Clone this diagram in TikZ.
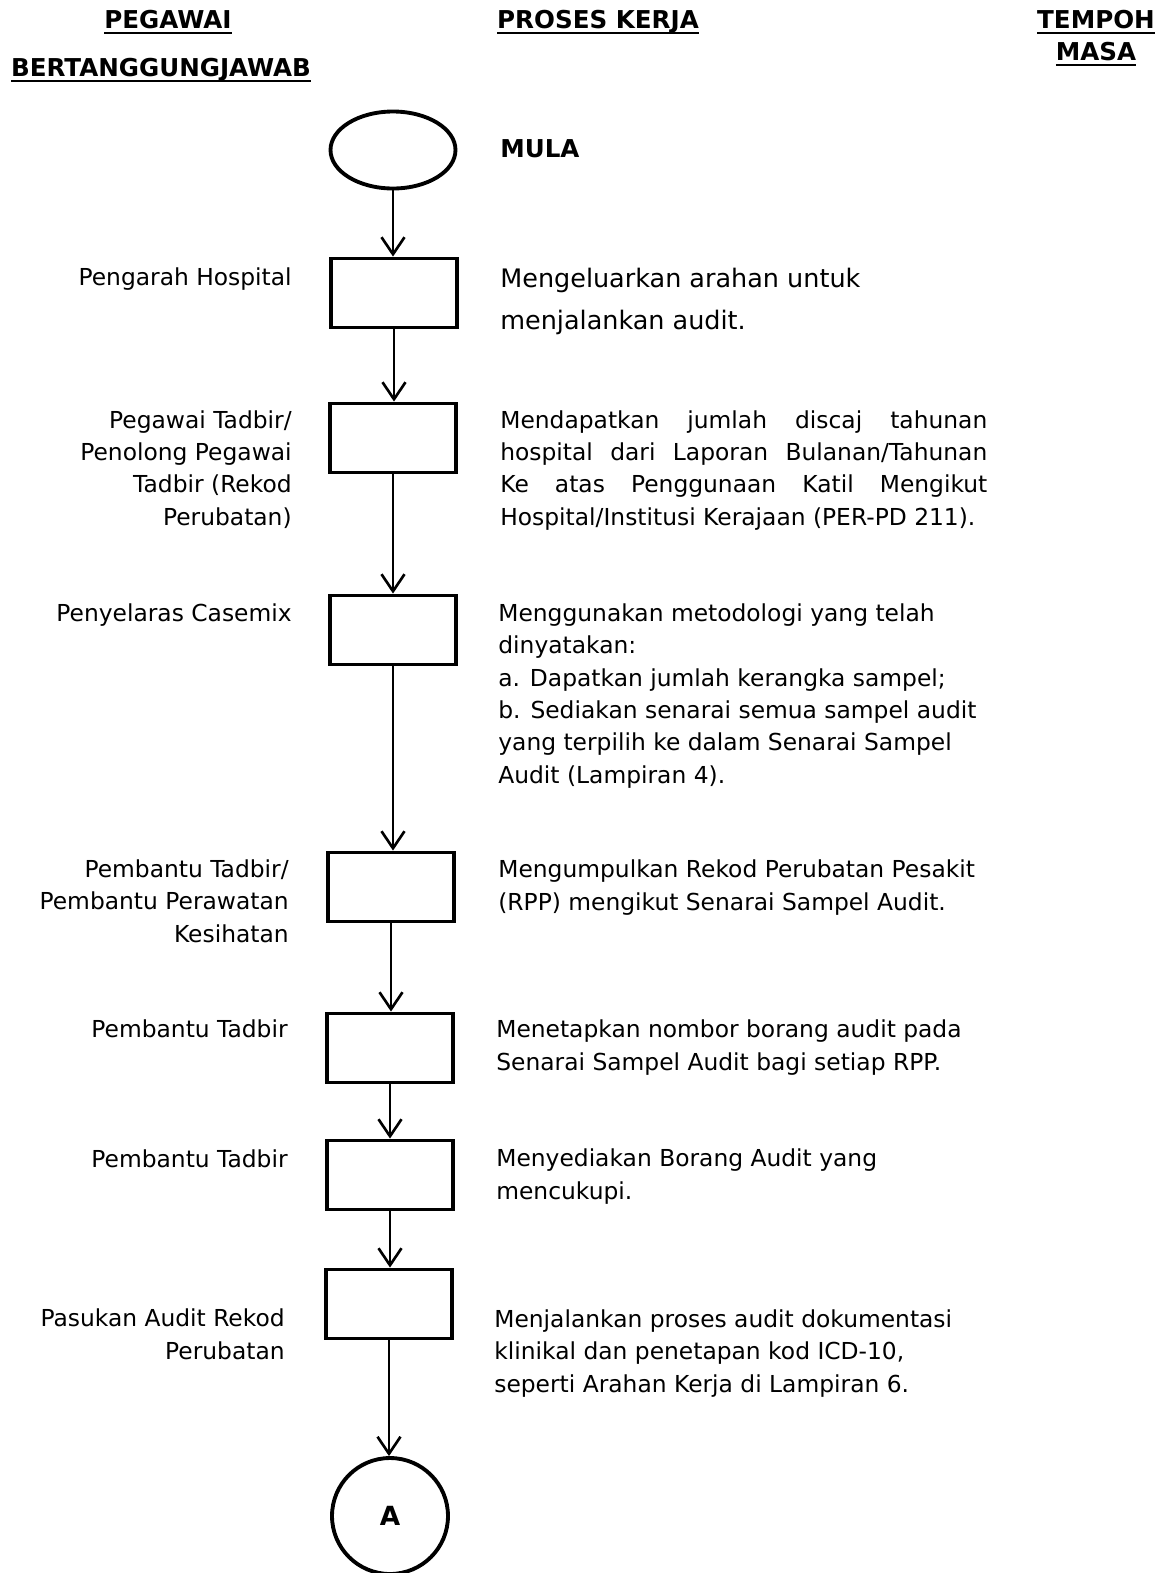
\documentclass[tikz,border=0pt]{standalone}
\usepackage{fontspec}
\setmainfont{DejaVu Sans}
\usetikzlibrary{arrows.meta, positioning, shapes.geometric}
\newlength{\dw}\setlength{\dw}{9.74cm}
\newcommand{\hul}[1]{\setbox0\hbox{#1}\leavevmode\rlap{\rule[-3.6pt]{\wd0}{1.6pt}}\box0}

\begin{document}
\begin{tikzpicture}[
    x=0.02cm, y=-0.02cm,
    >={Straight Barb[length=3.4mm, width=4.6mm]},
    every node/.style={font=\fontsize{13.3}{18.4}\selectfont, inner sep=0pt},
    head/.style   ={font=\fontsize{14}{18.2}\selectfont\bfseries, align=center, anchor=base},
    term/.style   ={draw, ellipse, line width=2.2pt, minimum width=2.5cm, minimum height=1.54cm},
    stepbox/.style={draw, line width=2.2pt, minimum width=2.52cm, minimum height=1.38cm},
    conn/.style   ={draw, circle, line width=2.2pt, minimum size=2.32cm,
                    font=\fontsize{15}{16}\selectfont\bfseries},
    who/.style    ={anchor=base east, align=right},
    what/.style   ={anchor=base west, align=left},
    flow/.style   ={->, line width=1.5pt},
]
\useasboundingbox (0,0) rectangle (1164,1573);
% column headings (multi-line nodes sit on the base of their last line)
\node[head] (hpeg)    at (168,28)  {\hul{PEGAWAI}};
\node[head] (hbert)   at (161,76)  {\hul{BERTANGGUNGJAWAB}};
\node[head] (hproses) at (598,28)  {\hul{PROSES KERJA}};
\node[head] (htempoh) at (1096,60) {\hul{TEMPOH}\\\hul{MASA}};
% flow shapes
\node[term]    (start) at (393,150)  {};
\node[head, anchor=base west] (mula) at (500,157) {MULA};
\node[stepbox] (s1) at (394,293)  {};
\node[stepbox] (s2) at (393,438)  {};
\node[stepbox] (s3) at (393,630)  {};
\node[stepbox] (s4) at (391,887)  {};
\node[stepbox] (s5) at (390,1048) {};
\node[stepbox] (s6) at (390,1175) {};
\node[stepbox] (s7) at (389,1304) {};
\node[conn]    (endA) at (390,1516) {A};
% officers
\node[who] (l1) at (292,285)  {Pengarah Hospital};
\node[who] (l2) at (292,525)  {Pegawai Tadbir/\\Penolong Pegawai\\Tadbir (Rekod\\Perubatan)};
\node[who] (l3) at (292,621)  {Penyelaras Casemix};
\node[who] (l4) at (289,942)  {Pembantu Tadbir/\\Pembantu Perawatan\\Kesihatan};
\node[who] (l5) at (288,1037) {Pembantu Tadbir};
\node[who] (l6) at (288,1167) {Pembantu Tadbir};
\node[who] (l7) at (285,1359) {Pasukan Audit Rekod\\Perubatan};
% work steps
\node[what, font=\fontsize{14.5}{21}\selectfont] (d1) at (500,329)
   {Mengeluarkan arahan untuk\\[2.8pt]menjalankan audit.};
\node[what] (d2) at (500,525)
   {\makebox[\dw][s]{Mendapatkan jumlah discaj tahunan}\\
    \makebox[\dw][s]{hospital dari Laporan Bulanan/Tahunan}\\
    \makebox[\dw][s]{Ke atas Penggunaan Katil Mengikut}\\
    Hospital/Institusi Kerajaan (PER-PD 211).};
\node[what] (d3) at (498,783)
   {Menggunakan metodologi yang telah\\dinyatakan:\\a. Dapatkan jumlah kerangka sampel;\\
    b. Sediakan senarai semua sampel audit\\yang terpilih ke dalam Senarai Sampel\\Audit (Lampiran 4).};
\node[what] (d4) at (498,910)
   {Mengumpulkan Rekod Perubatan Pesakit\\(RPP) mengikut Senarai Sampel Audit.};
\node[what] (d5) at (496,1070)
   {Menetapkan nombor borang audit pada\\Senarai Sampel Audit bagi setiap RPP.};
\node[what] (d6) at (496,1199)
   {Menyediakan Borang Audit yang\\mencukupi.};
\node[what] (d7) at (494,1392)
   {Menjalankan proses audit dokumentasi\\klinikal dan penetapan kod ICD-10,\\seperti Arahan Kerja di Lampiran 6.};
% connectors
\draw[flow] (start.south) -- (start.south |- s1.north);
\draw[flow] (s1.south) -- (s1.south |- s2.north);
\draw[flow] (s2.south) -- (s2.south |- s3.north);
\draw[flow] (s3.south) -- (s3.south |- s4.north);
\draw[flow] (s4.south) -- (s4.south |- s5.north);
\draw[flow] (s5.south) -- (s5.south |- s6.north);
\draw[flow] (s6.south) -- (s6.south |- s7.north);
\draw[flow] (s7.south) -- (s7.south |- endA.north);
\end{tikzpicture}
\end{document}
